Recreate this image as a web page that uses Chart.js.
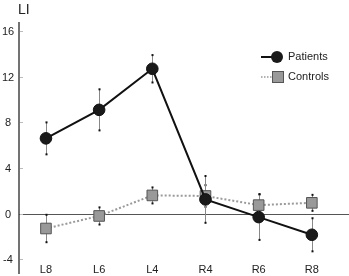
<!DOCTYPE html>
<html>
<head>
<meta charset="utf-8">
<script src="https://cdn.jsdelivr.net/npm/chart.js@4/dist/chart.umd.min.js"></script>
<style>
html,body{margin:0;padding:0;background:#fff;}
#wrap{width:349px;height:276px;position:relative;}
</style>
</head>
<body>
<div id="wrap"><canvas id="c" width="349" height="276"></canvas></div>
<script>
const categories = ['L8','L6','L4','R4','R6','R8'];
const seriesNames = ['Patients','Controls'];
const patients = [6.6, 9.1, 12.7, 1.25, -0.3, -1.85];
const patientsErr = [1.4, 1.8, 1.2, 2.05, 2.0, 1.45];
const controls = [-1.3, -0.2, 1.6, 1.55, 0.75, 0.95];
const controlsErr = [1.2, 0.75, 0.7, 0.95, 0.95, 0.7];
const yTicks = [-4, 0, 4, 8, 12, 16];
const yLabel = 'LI';

const FONT = '"Liberation Sans", Arial, sans-serif';

const toPts = arr => arr.map((v, i) => ({x: i, y: v}));

const decor = {
  id: 'decor',
  beforeDatasetsDraw(chart) {
    const ctx = chart.ctx, xs = chart.scales.x, ys = chart.scales.y, ca = chart.chartArea;
    ctx.save();
    // zero line
    const y0 = ys.getPixelForValue(0);
    ctx.strokeStyle = '#555';
    ctx.lineWidth = 1;
    ctx.beginPath(); ctx.moveTo(ca.left, Math.round(y0) + 0.5); ctx.lineTo(chart.width, Math.round(y0) + 0.5); ctx.stroke();
    // error bars
    const drawErr = (vals, errs) => {
      vals.forEach((v, i) => {
        const x = xs.getPixelForValue(i);
        const yt = ys.getPixelForValue(v + errs[i]);
        const yb = ys.getPixelForValue(v - errs[i]);
        ctx.strokeStyle = '#888';
        ctx.lineWidth = 1;
        ctx.beginPath(); ctx.moveTo(Math.round(x) + 0.5, yt); ctx.lineTo(Math.round(x) + 0.5, yb); ctx.stroke();
        ctx.fillStyle = '#111';
        ctx.fillRect(Math.round(x) - 0.5, yt - 1, 2, 2);
        ctx.fillRect(Math.round(x) - 0.5, yb - 1, 2, 2);
      });
    };
    drawErr(controls, controlsErr);
    drawErr(patients, patientsErr);
    ctx.restore();
  },
  afterDraw(chart) {
    const ctx = chart.ctx, xs = chart.scales.x, ys = chart.scales.y, ca = chart.chartArea;
    ctx.save();
    // y axis line
    ctx.strokeStyle = '#444';
    ctx.lineWidth = 1.5;
    ctx.beginPath(); ctx.moveTo(ca.left, ca.top); ctx.lineTo(ca.left, ca.bottom + 1); ctx.stroke();
    // y ticks and labels
    ctx.font = '11px ' + FONT;
    ctx.fillStyle = '#222';
    ctx.textAlign = 'center';
    ctx.textBaseline = 'middle';
    yTicks.forEach(t => {
      const y = ys.getPixelForValue(t);
      ctx.strokeStyle = '#bbb';
      ctx.lineWidth = 1;
      ctx.beginPath(); ctx.moveTo(ca.left + 1, Math.round(y) + 0.5); ctx.lineTo(ca.left + 4, Math.round(y) + 0.5); ctx.stroke();
      ctx.fillText(String(t), 8, y + 1);
    });
    // x labels
    categories.forEach((c, i) => {
      ctx.fillText(c, xs.getPixelForValue(i), 270);
    });
    // axis title
    ctx.font = '14px ' + FONT;
    ctx.textAlign = 'left';
    ctx.textBaseline = 'alphabetic';
    ctx.fillText(yLabel, 18, 14);
    // legend
    ctx.font = '11px ' + FONT;
    ctx.textBaseline = 'middle';
    // patients
    let ly = 57;
    ctx.strokeStyle = '#111'; ctx.lineWidth = 2; ctx.setLineDash([]);
    ctx.beginPath(); ctx.moveTo(261, ly); ctx.lineTo(277, ly); ctx.stroke();
    ctx.fillStyle = '#1a1a1a';
    ctx.beginPath(); ctx.arc(277, ly, 6, 0, Math.PI * 2); ctx.fill();
    ctx.fillStyle = '#222';
    ctx.fillText(seriesNames[0], 288, ly);
    // controls
    ly = 77;
    ctx.strokeStyle = '#999'; ctx.lineWidth = 1.5; ctx.setLineDash([1.5, 1.5]);
    ctx.beginPath(); ctx.moveTo(261, ly); ctx.lineTo(273, ly); ctx.stroke();
    ctx.setLineDash([]);
    ctx.fillStyle = '#999'; ctx.strokeStyle = '#555'; ctx.lineWidth = 1;
    ctx.fillRect(272.5, ly - 5.5, 11, 11);
    ctx.strokeRect(272.5, ly - 5.5, 11, 11);
    ctx.fillStyle = '#222';
    ctx.fillText(seriesNames[1], 288, ly);
    ctx.restore();
  }
};

new Chart(document.getElementById('c'), {
  type: 'line',
  data: {
    datasets: [
      {
        label: seriesNames[0],
        data: toPts(patients),
        borderColor: '#111',
        borderWidth: 2,
        backgroundColor: '#1a1a1a',
        pointBackgroundColor: '#1a1a1a',
        pointBorderColor: '#111',
        pointBorderWidth: 1,
        pointRadius: 5.8,
        pointStyle: 'circle',
        tension: 0
      },
      {
        label: seriesNames[1],
        data: toPts(controls),
        borderColor: '#9a9a9a',
        borderWidth: 2,
        borderDash: [2, 2],
        backgroundColor: '#999',
        pointBackgroundColor: '#999',
        pointBorderColor: '#555',
        pointBorderWidth: 1,
        pointRadius: 7.5,
        pointStyle: 'rect',
        tension: 0
      }
    ]
  },
  options: {
    responsive: false,
    animation: false,
    devicePixelRatio: 1,
    layout: {autoPadding: false, padding: {left: 19, right: 1, top: 22, bottom: 3}},
    plugins: {legend: {display: false}, tooltip: {enabled: false}, title: {display: false}},
    scales: {
      x: {type: 'linear', display: false, min: -0.507, max: 5.68},
      y: {type: 'linear', display: false, min: -5.2, max: 16.8}
    }
  },
  plugins: [decor]
});
</script>
</body>
</html>
